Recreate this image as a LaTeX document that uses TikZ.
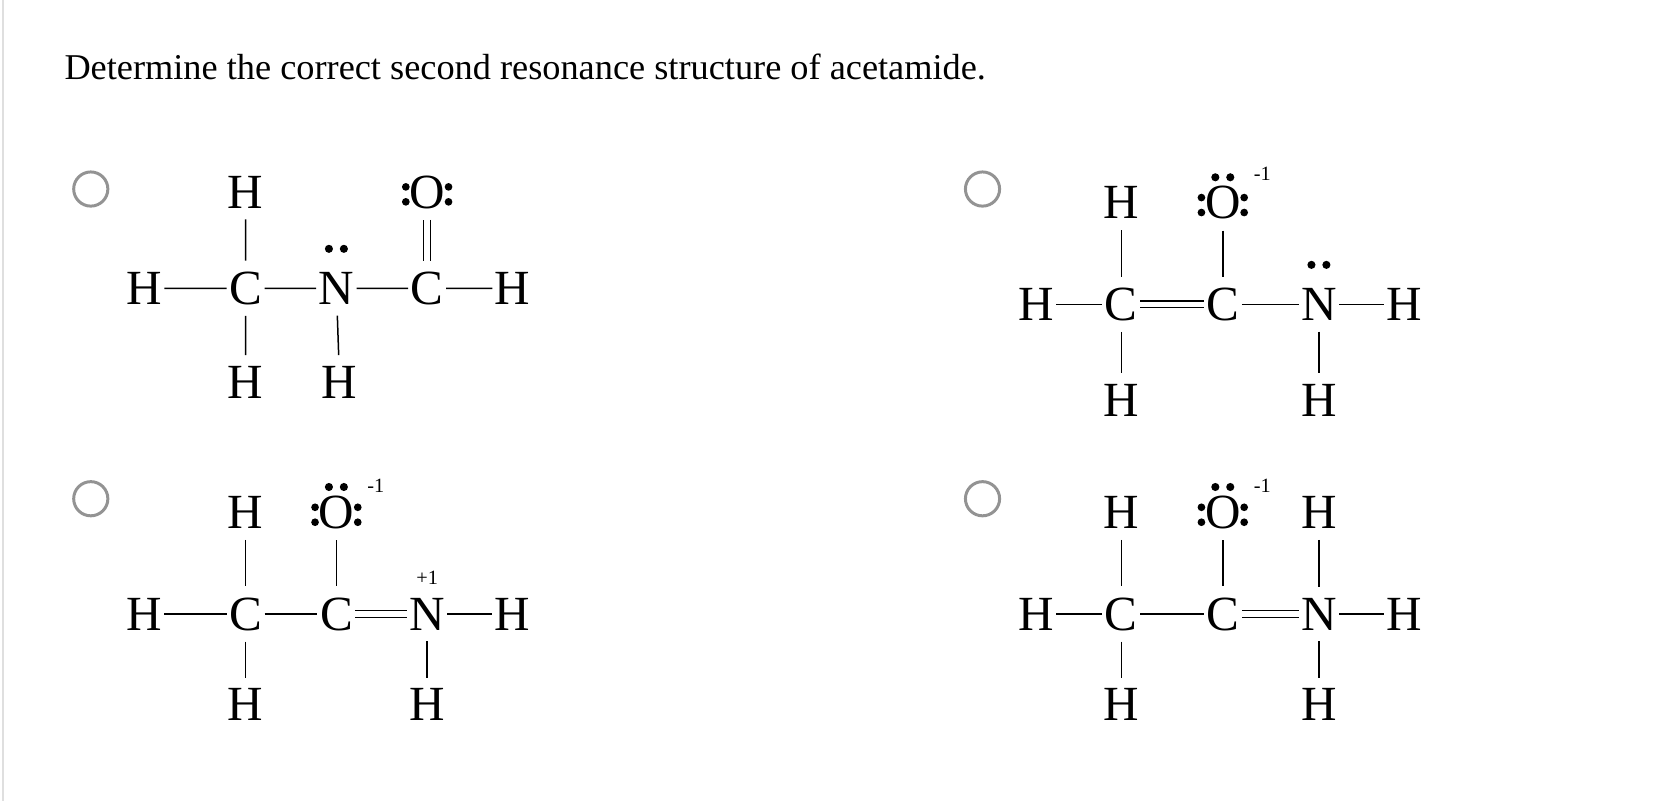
\documentclass[tikz,border=0pt]{standalone}
\usepackage{fontspec}
\setmainfont{Liberation Serif}
\begin{document}
\begin{tikzpicture}[x=0.5pt,y=-0.5pt,
  atm/.style={font=\fontsize{23}{23}\selectfont, inner xsep=1pt, inner ysep=5pt, anchor=center},
  bd/.style={line width=0.7pt},
  db/.style={double, double distance=2.6pt, line width=0.6pt},
  radio/.style={draw=gray!85, line width=1.4pt, circle, minimum size=16pt, inner sep=0pt},
  ch/.style={font=\fontsize{9.5}{9.5}\selectfont, inner sep=0pt},
  dot/.style={fill=black}]
\useasboundingbox (0,0) rectangle (1560,750);
\draw[gray!25, line width=1pt] (3,0) -- (3,750);
\node[anchor=west, font=\fontsize{17}{17}\selectfont, inner sep=0pt] (title) at (60,63) {Determine the correct second resonance structure of acetamide.};
\newcommand\colO[2]{\fill[dot] (#1-20,#2-7) circle (3.6) (#1-20,#2+7) circle (3.6) (#1+20,#2-7) circle (3.6) (#1+20,#2+7) circle (3.6);}
\newcommand\topdots[2]{\fill[dot] (#1-7,#2) circle (3.8) (#1+7,#2) circle (3.8);}
% ---- A
\node[radio] (ra) at (85,177) {};
\node[atm] (a1) at (230,180) {H};
\node[atm] (aO) at (400,180) {O}; \colO{400}{182}
\node[atm] (a2) at (135,270) {H};
\node[atm] (aC1) at (230,270) {C};
\node[atm] (aN) at (315,270) {N};
\node[atm] (aC2) at (400,270) {C};
\node[atm] (a3) at (480,270) {H};
\node[atm] (a4) at (230,358) {H};
\node[atm] (a5) at (318,358) {H};
\topdots{315}{233}
\draw[bd] (a2)--(aC1) (aC1)--(aN) (aN)--(aC2) (aC2)--(a3) (a1)--(aC1) (aC1)--(a4) (aN)--(a5);
\draw[db] (aO)--(aC2);
% ---- B
\node[radio] (rb) at (920,177) {};
\node[atm] (b1) at (1050,190) {H};
\node[atm] (bO) at (1145,190) {O}; \colO{1145}{192} \topdots{1145}{166}
\node[ch] (bq) at (1182,163) {-1};
\node[atm] (b2) at (970,285) {H};
\node[atm] (bC1) at (1050,285) {C};
\node[atm] (bC2) at (1145,285) {C};
\node[atm] (bN) at (1235,285) {N};
\node[atm] (b3) at (1315,285) {H};
\node[atm] (b4) at (1050,375) {H};
\node[atm] (b5) at (1235,375) {H};
\topdots{1235}{248}
\draw[bd] (b2)--(bC1) (bC2)--(bN) (bN)--(b3) (b1)--(bC1) (bC1)--(b4) (bO)--(bC2) (bN)--(b5);
\draw[db] (bC1)--(bC2);
% ---- C
\node[radio] (rc) at (85,467) {};
\node[atm] (c1) at (230,480) {H};
\node[atm] (cO) at (315,480) {O}; \colO{315}{482} \topdots{315}{456}
\node[ch] (cq) at (352,455) {-1};
\node[atm] (c2) at (135,575) {H};
\node[atm] (cC1) at (230,575) {C};
\node[atm] (cC2) at (315,575) {C};
\node[atm] (cN) at (400,575) {N};
\node[ch] (cp) at (400,541) {+1};
\node[atm] (c3) at (480,575) {H};
\node[atm] (c4) at (230,660) {H};
\node[atm] (c5) at (400,660) {H};
\draw[bd] (c2)--(cC1) (cC1)--(cC2) (cN)--(c3) (c1)--(cC1) (cC1)--(c4) (cO)--(cC2) (cN)--(c5);
\draw[db] (cC2)--(cN);
% ---- D
\node[radio] (rd) at (920,467) {};
\node[atm] (d1) at (1050,480) {H};
\node[atm] (dO) at (1145,480) {O}; \colO{1145}{482} \topdots{1145}{456}
\node[ch] (dq) at (1182,455) {-1};
\node[atm] (d6) at (1235,480) {H};
\node[atm] (d2) at (970,575) {H};
\node[atm] (dC1) at (1050,575) {C};
\node[atm] (dC2) at (1145,575) {C};
\node[atm] (dN) at (1235,575) {N};
\node[atm] (d3) at (1315,575) {H};
\node[atm] (d4) at (1050,660) {H};
\node[atm] (d5) at (1235,660) {H};
\draw[bd] (d2)--(dC1) (dC1)--(dC2) (dN)--(d3) (d1)--(dC1) (dC1)--(d4) (dO)--(dC2) (dN)--(d5) (d6)--(dN);
\draw[db] (dC2)--(dN);
\end{tikzpicture}
\end{document}
